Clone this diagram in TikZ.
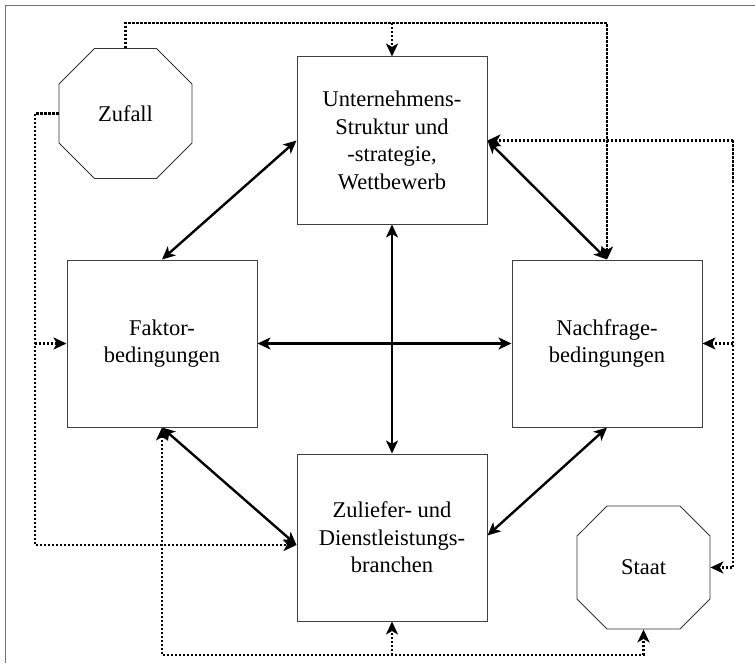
\documentclass[tikz,border=0pt]{standalone}
\usepackage{fontspec}
\setmainfont{Liberation Serif}
\usetikzlibrary{arrows.meta,shapes.misc}

\begin{document}
\begin{tikzpicture}[x=1pt,y=-1pt,
	font=\fontsize{22.5}{27.5}\selectfont,
	box/.style={draw=black!75,line width=1pt,minimum width=190pt,minimum height=167pt,align=center,inner sep=0pt},
	octo/.style={chamfered rectangle,chamfered rectangle xsep=36.5pt,chamfered rectangle ysep=36.5pt,draw=black!80,line width=.8pt,minimum width=133pt,inner sep=0pt},
	dual/.style={line width=2.4pt,{Stealth[length=13pt,width=12pt,inset=3.5pt]}-{Stealth[length=13pt,width=12pt,inset=3.5pt]}},
	infl/.style={line width=2.3pt,dash pattern=on 2.2pt off 1.8pt,-{Stealth[length=13pt,width=12pt,inset=3.5pt]}}]
	\useasboundingbox (0,0) rectangle (755,666);
	% \draw [color=gray!40] [step=50] (0,0) grid (755,666);
	\draw[black!55,line width=1.5pt] (5.5,663) -- (5.5,5.5) -- (755,5.5);
	
	\node[box] (unt) at (392,140.5) {Unternehmens-\\Struktur und\\-strategie,\\Wettbewerb};
	\node[box] (fak) at (162,343.5) {Faktor-\\bedingungen};
	\node[box] (nach) at (607,343.5) {Nachfrage-\\bedingungen};
	\node[box] (zul) at (392,537.5) {Zuliefer- und\\Dienstleistungs-\\branchen};
	\node[octo,minimum height=130pt] (zuf) at (125.5,113.5) {Zufall};
	\node[octo,minimum height=123pt] (staat) at (643.5,567.5) {Staat};
	
	\draw[dual] (unt.west) -- (fak.north);
	\draw[dual] (unt.east) -- (nach.north);
	\draw[dual] (unt.south) -- (zul.north);
	\draw[dual] (fak.east) -- (nach.west);
	\draw[dual] (fak.south) -- ([yshift=-7.5pt]zul.west);
	\draw[dual] ([yshift=2pt]zul.east) -- (nach.south);
	
	\coordinate (topR) at (607,23);
	\coordinate (leftB) at (35,545);
	\coordinate (rightT) at (733,140.5);
	\coordinate (botL) at (162,655);
	
	\draw[infl] (zuf.north) |- (topR) -- (nach.north);
	\draw[infl] (unt.north |- topR) -- (unt.north);
	\draw[infl] (zuf.west) -| (leftB) -- ([yshift=-7.5pt]zul.west);
	\draw[infl] (leftB |- fak.west) -- (fak.west);
	\draw[infl] (rightT) -- (unt.east);
	\draw[infl] (rightT) |- (staat.east);
	\draw[infl] (rightT |- nach.east) -- (nach.east);
	\draw[infl,{Stealth[length=13pt,width=12pt,inset=3.5pt]}-{Stealth[length=13pt,width=12pt,inset=3.5pt]}] (fak.south) -- (botL) -| (staat.south);
	\draw[infl] (zul.south |- botL) -- (zul.south);
\end{tikzpicture}
\end{document}
